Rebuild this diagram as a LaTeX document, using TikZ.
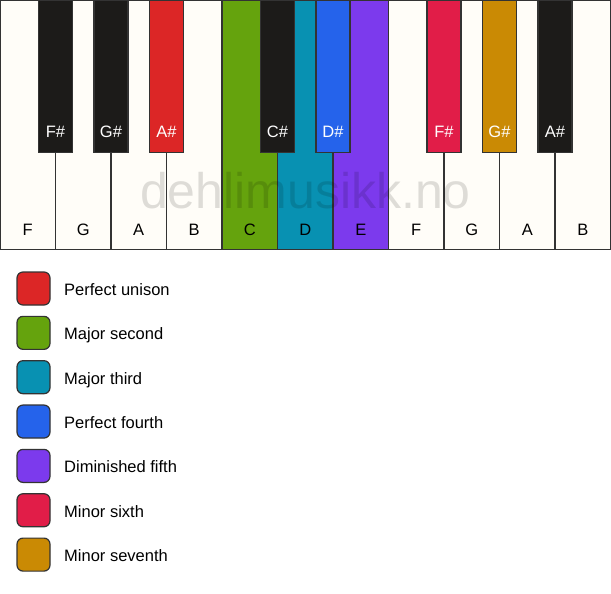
\documentclass[tikz,border=0pt]{standalone}
\usepackage{fontspec}
\setmainfont{Liberation Sans}
\definecolor{keywhite}{HTML}{FFFDF8}
\definecolor{keyblack}{HTML}{1C1B19}
\definecolor{edge}{HTML}{333333}
\definecolor{cred}{HTML}{DC2626}
\definecolor{cgreen}{HTML}{65A30D}
\definecolor{cteal}{HTML}{0891B2}
\definecolor{cblue}{HTML}{2563EB}
\definecolor{cviolet}{HTML}{7C3AED}
\definecolor{crose}{HTML}{E11D48}
\definecolor{cgold}{HTML}{CA8A04}
\begin{document}
\begin{tikzpicture}[x=1pt,y=-1pt,
  whitekey/.style={draw=edge,line width=1.2pt,fill=keywhite},
  blackkey/.style={draw=edge,line width=1.2pt,fill=keyblack},
  wlabel/.style={text=black,font=\fontsize{16.5}{20}\selectfont,inner sep=0pt},
  blabel/.style={text=white,font=\fontsize{16.5}{20}\selectfont,inner sep=0pt},
  swatch/.style={draw=edge,line width=1.2pt,rounded corners=6pt,minimum width=33pt,minimum height=33pt,inner sep=0pt},
  legtext/.style={anchor=base west,text=black,font=\fontsize{16.5}{20}\selectfont,inner sep=0pt},
  wmark/.style={text=black,text opacity=0.13,font=\fontsize{50}{60}\selectfont,inner sep=0pt,anchor=base}]
\useasboundingbox[fill=white] (0,0) rectangle (611,594);
% white keys
\foreach \i/\n/\c in {0/F/keywhite,1/G/keywhite,2/A/keywhite,3/B/keywhite,4/C/cgreen,5/D/cteal,6/E/cviolet,7/F/keywhite,8/G/keywhite,9/A/keywhite,10/B/keywhite}{
  \draw[whitekey,fill=\c] ({\i*55.5},0) rectangle ({(\i+1)*55.5},249.5);
  \node[wlabel] (w\i) at ({(\i+0.5)*55.5},230) {\n};
}
% black keys
\foreach \k/\n/\c in {1/F\#/keyblack,2/G\#/keyblack,3/A\#/cred,5/C\#/keyblack,6/D\#/cblue,8/F\#/crose,9/G\#/cgold,10/A\#/keyblack}{
  \draw[blackkey,fill=\c] ({\k*55.5-17},0) rectangle ({\k*55.5+17},152.5);
  \node[blabel] (b\k) at ({\k*55.5},132) {\n};
}
% watermark
\node[wmark] (wm) at (305.5,208.3) {dehlimusikk.no};
% legend
\foreach \j/\c/\t in {0/cred/Perfect unison,1/cgreen/Major second,2/cteal/Major third,3/cblue/Perfect fourth,4/cviolet/Diminished fifth,5/crose/Minor sixth,6/cgold/Minor seventh}{
  \node[swatch,fill=\c] (s\j) at (33.5,{288.5+\j*44.35}) {};
  \node[legtext] (t\j) at (64,{295.5+\j*44.35}) {\t};
}
\end{tikzpicture}
\end{document}
